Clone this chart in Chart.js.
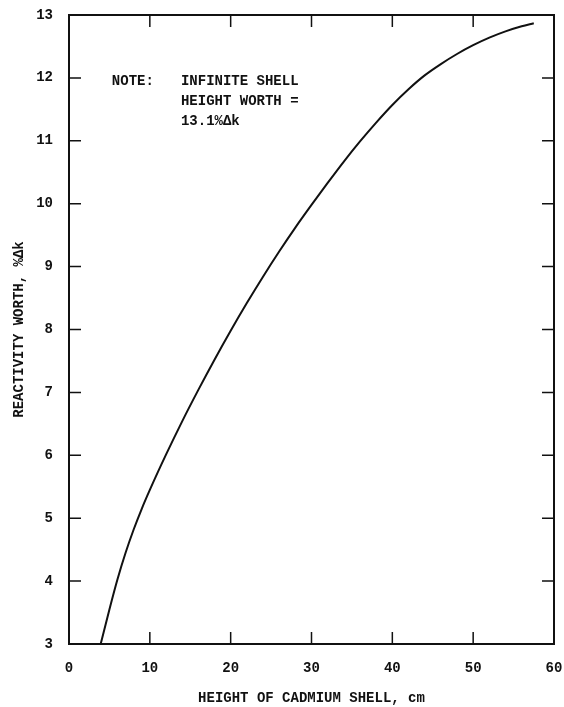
<!DOCTYPE html>
<html lang="en">
<head>
<meta charset="UTF-8">
<title>Reactivity worth vs cadmium shell height</title>
<script src="https://cdn.jsdelivr.net/npm/chart.js"></script>
<style>
  html, body { margin: 0; padding: 0; background: #fff; }
  canvas { display: block; }
</style>
</head>
<body>
<canvas id="myChart" width="564" height="707"></canvas>
<script>
// values
const heights = [3.92, 5, 6, 7, 8, 9, 10, 12, 14, 16, 18, 20, 22, 24, 26, 28, 30, 32, 34, 36, 38, 40, 42, 44, 46, 48, 50, 52, 54, 56, 57.5];
const worth   = [3.0, 3.55, 4.03, 4.45, 4.82, 5.15, 5.45, 6.01, 6.54, 7.04, 7.52, 7.98, 8.42, 8.84, 9.24, 9.62, 9.98, 10.33, 10.67, 10.99, 11.29, 11.57, 11.82, 12.04, 12.22, 12.38, 12.52, 12.64, 12.74, 12.82, 12.87];

const xTicks = [0, 10, 20, 30, 40, 50, 60];
const yTicks = [3, 4, 5, 6, 7, 8, 9, 10, 11, 12, 13];
const noteLines = ['NOTE:', 'INFINITE SHELL', 'HEIGHT WORTH =', '13.1%\u0394k'];

const ink = '#111';
const font = '"Liberation Mono", "DejaVu Sans Mono", monospace';

// box + inward ticks on all four sides, and the note
const framePlugin = {
    id: 'frame',
    afterDraw(chart) {
        const {ctx, chartArea: a, scales: {x, y}} = chart;
        ctx.save();
        ctx.strokeStyle = ink;
        ctx.lineWidth = 2;
        ctx.strokeRect(a.left, a.top, a.right - a.left, a.bottom - a.top);
        ctx.lineWidth = 1.5;
        ctx.beginPath();
        xTicks.slice(1, -1).forEach(v => {
            const px = x.getPixelForValue(v);
            ctx.moveTo(px, a.bottom); ctx.lineTo(px, a.bottom - 12);
            ctx.moveTo(px, a.top); ctx.lineTo(px, a.top + 12);
        });
        yTicks.slice(1, -1).forEach(v => {
            const py = y.getPixelForValue(v);
            ctx.moveTo(a.left, py); ctx.lineTo(a.left + 12, py);
            ctx.moveTo(a.right, py); ctx.lineTo(a.right - 12, py);
        });
        ctx.stroke();

        // note text
        ctx.fillStyle = ink;
        ctx.font = 'bold 14px ' + font;
        ctx.textBaseline = 'middle';
        ctx.textAlign = 'left';
        const nx = x.getPixelForValue(5.3);
        const ix = x.getPixelForValue(13.85);
        const ny = y.getPixelForValue(11.94);
        ctx.fillText(noteLines[0], nx, ny);
        ctx.fillText(noteLines[1], ix, ny);
        ctx.fillText(noteLines[2], ix, ny + 20);
        ctx.fillText(noteLines[3], ix, ny + 40);
        ctx.restore();
    }
};

new Chart(document.getElementById('myChart'), {
    type: 'line',
    data: {
        datasets: [{
            data: heights.map((h, i) => ({x: h, y: worth[i]})),
            borderColor: ink,
            borderWidth: 2,
            pointRadius: 0,
            fill: false,
            cubicInterpolationMode: 'monotone'
        }]
    },
    options: {
        responsive: false,
        animation: false,
        layout: {padding: {top: 15, right: 10, left: 0, bottom: 0}},
        plugins: {legend: {display: false}, tooltip: {enabled: false}},
        scales: {
            x: {
                type: 'linear',
                min: 0, max: 60,
                afterBuildTicks: s => { s.ticks = xTicks.map(v => ({value: v})); },
                afterFit: s => { s.height = 63; s.paddingLeft = 0; s.paddingRight = 0; },
                grid: {display: false, drawTicks: false},
                border: {display: false},
                ticks: {color: ink, padding: 16, font: {family: font, size: 14, weight: 'bold'}},
                title: {
                    display: true,
                    text: 'HEIGHT OF CADMIUM SHELL, cm',
                    color: ink,
                    padding: {top: 0, bottom: 0},
                    font: {family: font, size: 14, weight: 'bold'}
                }
            },
            y: {
                type: 'linear',
                min: 3, max: 13,
                afterBuildTicks: s => { s.ticks = yTicks.map(v => ({value: v})); },
                afterFit: s => { s.width = 69; s.paddingTop = 0; s.paddingBottom = 0; },
                grid: {display: false, drawTicks: false},
                border: {display: false},
                ticks: {color: ink, padding: 16, font: {family: font, size: 14, weight: 'bold'}},
                title: {
                    display: true,
                    text: 'REACTIVITY WORTH, %\u0394k',
                    color: ink,
                    padding: {top: 11, bottom: 0},
                    font: {family: font, size: 14, weight: 'bold'}
                }
            }
        }
    },
    plugins: [framePlugin]
});
</script>
</body>
</html>
